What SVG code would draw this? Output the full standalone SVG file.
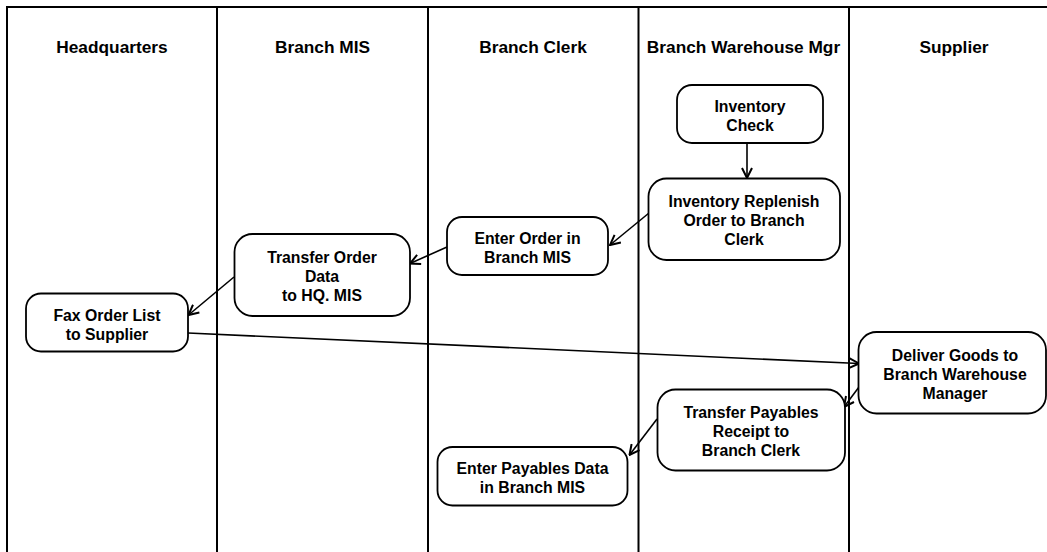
<svg xmlns="http://www.w3.org/2000/svg" width="1047" height="552" viewBox="0 0 1047 552">
<style>
  .lane { stroke: #000; stroke-width: 2; fill: none; }
  .hdr { font-family: "Liberation Sans", Arial, sans-serif; font-weight: bold; font-size: 17.3px; fill: #000; text-anchor: middle; }
  .box { fill: #fff; stroke: #000; stroke-width: 1.8; }
  .lbl { font-family: "Liberation Sans", Arial, sans-serif; font-weight: bold; font-size: 15.8px; fill: #000; text-anchor: middle; }
  .edge { stroke: #000; stroke-width: 1.6; fill: none; marker-end: url(#arr); }
</style>
<defs>
  <marker id="arr" viewBox="0 0 12 12" refX="11" refY="6" markerWidth="12" markerHeight="12" markerUnits="userSpaceOnUse" orient="auto">
    <path d="M1,1 L11,6 L1,11" fill="none" stroke="#000" stroke-width="2"/>
  </marker>
</defs>
<rect width="1047" height="552" fill="#fff"/>
<g id="lanes">
  <line class="lane" x1="7" y1="7" x2="1047" y2="7"/>
  <line class="lane" x1="7" y1="6" x2="7" y2="552"/>
  <line class="lane" x1="217" y1="7" x2="217" y2="552"/>
  <line class="lane" x1="428" y1="7" x2="428" y2="552"/>
  <line class="lane" x1="638.5" y1="7" x2="638.5" y2="552"/>
  <line class="lane" x1="849" y1="7" x2="849" y2="552"/>
  <text class="hdr" x="112" y="52.5">Headquarters</text>
  <text class="hdr" x="322.5" y="52.5">Branch MIS</text>
  <text class="hdr" x="533" y="52.5">Branch Clerk</text>
  <text class="hdr" x="743.5" y="52.5">Branch Warehouse Mgr</text>
  <text class="hdr" x="954" y="52.5">Supplier</text>
</g>
<g id="connectors">
  <line class="edge" x1="747" y1="143" x2="747" y2="178"/>
  <line class="edge" x1="649" y1="213" x2="610" y2="245"/>
  <line class="edge" x1="447" y1="247" x2="410" y2="263.5"/>
  <line class="edge" x1="234" y1="277" x2="188.5" y2="315"/>
  <line class="edge" x1="188" y1="333" x2="859" y2="363.5"/>
  <line class="edge" x1="859" y1="387" x2="844" y2="407"/>
  <line class="edge" x1="657" y1="419" x2="629.5" y2="455"/>
</g>
<g id="inventory-check">
  <rect class="box" x="677" y="85" width="146" height="58" rx="15"/>
  <text class="lbl" x="750" y="112">Inventory</text>
  <text class="lbl" x="750" y="131">Check</text>
</g>
<g id="inventory-replenish">
  <rect class="box" x="648.5" y="178.5" width="191.5" height="81.5" rx="18"/>
  <text class="lbl" x="744" y="206.5">Inventory Replenish</text>
  <text class="lbl" x="744" y="225.5">Order to Branch</text>
  <text class="lbl" x="744" y="244.5">Clerk</text>
</g>
<g id="enter-order">
  <rect class="box" x="447" y="217" width="161" height="58" rx="15"/>
  <text class="lbl" x="527.5" y="243.5">Enter Order in</text>
  <text class="lbl" x="527.5" y="262.5">Branch MIS</text>
</g>
<g id="transfer-order">
  <rect class="box" x="234.5" y="234" width="175.5" height="82" rx="18"/>
  <text class="lbl" x="322" y="262.5">Transfer Order</text>
  <text class="lbl" x="322" y="282">Data</text>
  <text class="lbl" x="322" y="301">to HQ. MIS</text>
</g>
<g id="fax-order">
  <rect class="box" x="26" y="293.5" width="162" height="58" rx="15"/>
  <text class="lbl" x="107" y="320.5">Fax Order List</text>
  <text class="lbl" x="107" y="339.5">to Supplier</text>
</g>
<g id="deliver-goods">
  <rect class="box" x="858.5" y="332" width="187.5" height="81.5" rx="18"/>
  <text class="lbl" x="955" y="360.5">Deliver Goods to</text>
  <text class="lbl" x="955" y="379.5">Branch Warehouse</text>
  <text class="lbl" x="955" y="398.5">Manager</text>
</g>
<g id="transfer-payables">
  <rect class="box" x="657.5" y="389.5" width="187.5" height="81" rx="18"/>
  <text class="lbl" x="751" y="417.5">Transfer Payables</text>
  <text class="lbl" x="751" y="436.5">Receipt to</text>
  <text class="lbl" x="751" y="455.5">Branch Clerk</text>
</g>
<g id="enter-payables">
  <rect class="box" x="437.5" y="447" width="190" height="58.5" rx="15"/>
  <text class="lbl" x="532.5" y="474">Enter Payables Data</text>
  <text class="lbl" x="532.5" y="493">in Branch MIS</text>
</g>
</svg>
